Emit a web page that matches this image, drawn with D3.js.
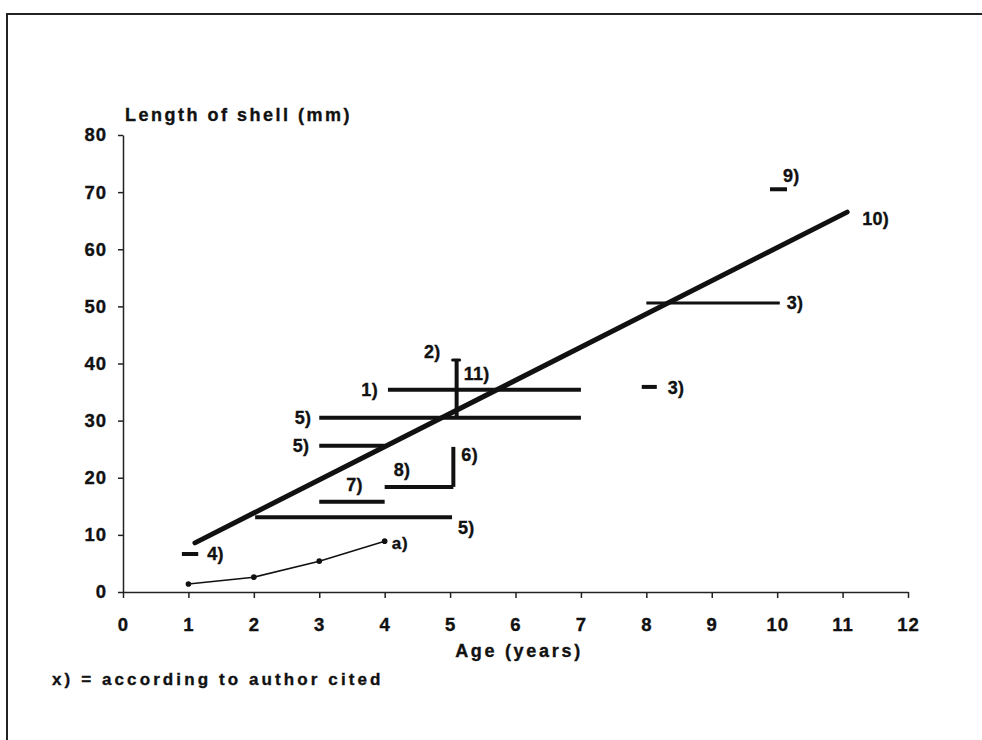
<!DOCTYPE html>
<html><head><meta charset="utf-8">
<script src="https://cdn.jsdelivr.net/npm/d3@7"></script>
<style>
html,body{margin:0;padding:0;background:#fff;}
svg{display:block;}
text{font-family:"Liberation Sans",Arial,Helvetica,sans-serif;font-weight:bold;fill:#111;stroke:#111;stroke-width:0.35px;}
</style></head><body>
<svg id="chart" width="982" height="740"></svg>
<script>
// ---- data ----
const xTicks = [0,1,2,3,4,5,6,7,8,9,10,11,12];
const yTicks = [0,10,20,30,40,50,60,70,80];

// horizontal ranges (age range at a given shell length)
const hSegLabels = ["1)", "5)", "5)", "8)", "7)", "5)", "3)", "3)", "4)", "9)"];
const hSegStart  = [4.05, 3.0, 3.0, 4.0, 3.0, 2.02, 8.0, 7.93, 0.9, 9.89];
const hSegEnd    = [7.0, 7.0, 4.0, 5.05, 4.0, 5.03, 10.04, 8.16, 1.15, 10.15];
const hSegLength = [35.4, 30.5, 25.6, 18.4, 15.8, 13.1, 50.6, 35.9, 6.65, 70.5];

// vertical ranges (length range at a given age)
const vSegLabels = ["2)", "6)"];
const vSegAge    = [5.1, 5.05];
const vSegLow    = [30.8, 18.4];
const vSegHigh   = [40.6, 25.4];

// regression line 10)
const regLabel = "10)";
const regAges = [1.1, 11.07];
const regLengths = [8.6, 66.5];

// growth curve a)
const aLabel = "a)";
const aAges = [1, 2, 3, 4];
const aLengths = [1.4, 2.6, 5.4, 8.9];

// extra annotation 11) (attached to top of 2))
const extraLabel = "11)";

// ---- layout (pixels) ----
const hLabelLayout = [
  {side:"start", anchor:"end",   dx:-10, dy:0},
  {side:"start", anchor:"end",   dx:-8,  dy:0},
  {side:"start", anchor:"end",   dx:-10, dy:0},
  {side:"start", anchor:"start", dx:9,   dy:-17},
  {side:"start", anchor:"start", dx:27,  dy:-17},
  {side:"end",   anchor:"start", dx:6,   dy:11},
  {side:"end",   anchor:"start", dx:7,   dy:0},
  {side:"end",   anchor:"start", dx:11,  dy:1},
  {side:"end",   anchor:"start", dx:9,   dy:0},
  {side:"end",   anchor:"start", dx:-4,  dy:-14}
];
const hWidths = [4, 4, 4, 4, 4, 4, 3, 4, 4, 4];
const vLabelLayout = [
  {anchor:"end",   dx:-16, dy:-8},
  {anchor:"start", dx:8,   dy:8}
];

const svg = d3.select("#chart");
const x = d3.scaleLinear().domain([0, 12]).range([123, 908]);
const y = d3.scaleLinear().domain([0, 80]).range([592, 135]);

// frame
svg.append("path").attr("d", "M7,740V14H982")
  .attr("fill", "none").attr("stroke", "#222").attr("stroke-width", 2);

// axes
const xAxis = svg.append("g").attr("transform", `translate(0,${y(0)})`)
  .call(d3.axisBottom(x).tickValues(xTicks).tickSize(6).tickPadding(20).tickSizeOuter(0));
const yAxis = svg.append("g").attr("transform", `translate(${x(0)},0)`)
  .call(d3.axisLeft(y).tickValues(yTicks).tickSize(5).tickPadding(12).tickSizeOuter(0));
[xAxis, yAxis].forEach(g => {
  g.select(".domain").attr("stroke", "#222").attr("stroke-width", 1.5);
  g.selectAll(".tick line").attr("stroke", "#222").attr("stroke-width", 1.5);
  g.selectAll(".tick text").attr("font-size", 18.5).attr("letter-spacing", 1)
    .attr("fill", "#111").attr("font-family", '"Liberation Sans",Arial,sans-serif')
    .attr("font-weight", "bold");
});
yAxis.selectAll(".tick text").attr("dx", 1);

// titles
svg.append("text").attr("x", 125).attr("y", 121)
  .attr("font-size", 18).attr("letter-spacing", 2.5).text("Length of shell (mm)");
svg.append("text").attr("x", 519).attr("y", 657).attr("text-anchor", "middle")
  .attr("font-size", 18).attr("letter-spacing", 2.7).text("Age (years)");
svg.append("text").attr("x", 52).attr("y", 685)
  .attr("font-size", 17).attr("letter-spacing", 3.1).text("x) = according to author cited");

const marks = svg.append("g");
const labels = svg.append("g").attr("font-size", 18).attr("letter-spacing", 0.3);

// regression line
marks.append("line")
  .attr("x1", x(regAges[0])).attr("y1", y(regLengths[0]))
  .attr("x2", x(regAges[1])).attr("y2", y(regLengths[1]))
  .attr("stroke", "#111").attr("stroke-width", 5).attr("stroke-linecap", "round");
labels.append("text")
  .attr("x", x(regAges[1]) + 15).attr("y", y(regLengths[1]) + 7).attr("dy", "0.35em")
  .text(regLabel);

// horizontal segments
hSegLabels.forEach((lab, i) => {
  marks.append("line")
    .attr("x1", x(hSegStart[i])).attr("x2", x(hSegEnd[i]))
    .attr("y1", y(hSegLength[i])).attr("y2", y(hSegLength[i]))
    .attr("stroke", "#111").attr("stroke-width", hWidths[i]);
  const L = hLabelLayout[i];
  const ax = L.side === "start" ? x(hSegStart[i]) : x(hSegEnd[i]);
  labels.append("text")
    .attr("x", ax + L.dx).attr("y", y(hSegLength[i]) + L.dy).attr("dy", "0.35em")
    .attr("text-anchor", L.anchor).text(lab);
});

// vertical segments
vSegLabels.forEach((lab, i) => {
  marks.append("line")
    .attr("x1", x(vSegAge[i])).attr("x2", x(vSegAge[i]))
    .attr("y1", y(vSegLow[i])).attr("y2", y(vSegHigh[i]))
    .attr("stroke", "#111").attr("stroke-width", 4);
  const L = vLabelLayout[i];
  labels.append("text")
    .attr("x", x(vSegAge[i]) + L.dx).attr("y", y(vSegHigh[i]) + L.dy).attr("dy", "0.35em")
    .attr("text-anchor", L.anchor).text(lab);
});
// small cap on top of 2)
marks.append("line")
  .attr("x1", x(vSegAge[0]) - 4).attr("x2", x(vSegAge[0]) + 3)
  .attr("y1", y(vSegHigh[0])).attr("y2", y(vSegHigh[0]))
  .attr("stroke", "#111").attr("stroke-width", 3).attr("stroke-linecap", "round");
labels.append("text")
  .attr("x", x(vSegAge[0]) + 7).attr("y", y(vSegHigh[0]) + 14).attr("dy", "0.35em")
  .text(extraLabel);

// growth curve a)
const line = d3.line().x((d, i) => x(aAges[i])).y((d, i) => y(aLengths[i]));
marks.append("path").attr("d", line(aAges))
  .attr("fill", "none").attr("stroke", "#111").attr("stroke-width", 1.5);
marks.selectAll("circle.a").data(aAges).join("circle")
  .attr("cx", (d, i) => x(aAges[i])).attr("cy", (d, i) => y(aLengths[i]))
  .attr("r", 2.8).attr("fill", "#111");
svg.append("text")
  .attr("x", x(aAges[3]) + 7).attr("y", y(aLengths[3]) + 2).attr("dy", "0.35em")
  .attr("font-family", '"Liberation Serif","Times New Roman",serif')
  .attr("font-size", 17).attr("letter-spacing", 1).text(aLabel);
</script>
</body></html>
